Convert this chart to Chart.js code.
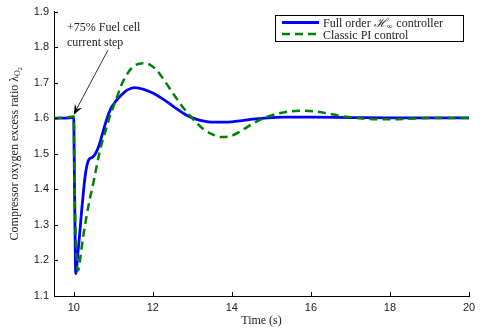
<!DOCTYPE html>
<html>
<head>
<meta charset="utf-8">
<script src="https://cdn.jsdelivr.net/npm/chart.js@4/dist/chart.umd.min.js"></script>
<style>
  html, body { margin: 0; padding: 0; background: #fff; }
  canvas { display: block; }
</style>
</head>
<body>
<canvas id="chart" width="483" height="330"></canvas>
<script>
// time (s) and oxygen excess ratio
var timeHinf = [9.5, 9.9, 10.0, 10.01, 10.03, 10.05, 10.1, 10.15, 10.2, 10.24, 10.28, 10.32, 10.36, 10.4, 10.45, 10.5, 10.56, 10.62, 10.68, 10.74, 10.8, 10.86, 10.93, 11.0, 11.1, 11.2, 11.35, 11.54, 11.8, 12.0, 12.2, 12.4, 12.6, 12.8, 13.0, 13.2, 13.4, 13.6, 13.8, 14.0, 14.3, 14.6, 14.9, 15.3, 16.0, 17.0, 18.0, 20.0];
var ratioHinf = [1.600, 1.601, 1.602, 1.50, 1.30, 1.163, 1.215, 1.275, 1.34, 1.387, 1.43, 1.46, 1.478, 1.486, 1.489, 1.493, 1.503, 1.518, 1.538, 1.562, 1.585, 1.606, 1.625, 1.638, 1.653, 1.665, 1.679, 1.686, 1.680, 1.671, 1.658, 1.643, 1.627, 1.612, 1.601, 1.594, 1.590, 1.589, 1.589, 1.590, 1.594, 1.598, 1.601, 1.603, 1.603, 1.602, 1.601, 1.601];

var timePI = [9.5, 9.8, 10.0, 10.01, 10.04, 10.08, 10.11, 10.15, 10.19, 10.25, 10.32, 10.4, 10.49, 10.57, 10.66, 10.75, 10.83, 10.91, 11.0, 11.08, 11.2, 11.35, 11.5, 11.75, 11.92, 12.1, 12.3, 12.5, 12.7, 12.9, 13.1, 13.3, 13.5, 13.74, 13.95, 14.2, 14.5, 14.8, 15.2, 15.7, 16.1, 16.5, 16.9, 17.3, 17.7, 18.1, 18.6, 19.2, 20.0];
var ratioPI = [1.600, 1.602, 1.605, 1.50, 1.30, 1.19, 1.172, 1.195, 1.229, 1.275, 1.322, 1.37, 1.415, 1.46, 1.508, 1.545, 1.574, 1.605, 1.632, 1.655, 1.692, 1.724, 1.745, 1.755, 1.751, 1.735, 1.705, 1.672, 1.640, 1.612, 1.588, 1.568, 1.555, 1.547, 1.549, 1.562, 1.583, 1.600, 1.614, 1.621, 1.619, 1.612, 1.604, 1.599, 1.597, 1.597, 1.599, 1.601, 1.601];

var xTicks = [10, 12, 14, 16, 18, 20];
var yTicks = [1.1, 1.2, 1.3, 1.4, 1.5, 1.6, 1.7, 1.8, 1.9];

var serif = "'Liberation Serif', 'DejaVu Serif', serif";
var sans = "'Liberation Sans', Arial, sans-serif";

function toPoints(xs, ys) {
    return xs.map(function (x, i) { return { x: x, y: ys[i] }; });
}

// inward ticks, y title, legend and the annotation arrow
var extras = {
    id: 'extras',
    afterDraw: function (chart) {
        var ctx = chart.ctx;
        var xs = chart.scales.x, ys = chart.scales.y;
        var area = chart.chartArea;
        ctx.save();

        // inward tick marks
        ctx.strokeStyle = '#000';
        ctx.lineWidth = 1;
        ctx.beginPath();
        xTicks.forEach(function (v) {
            var px = Math.round(xs.getPixelForValue(v)) + 0.5;
            ctx.moveTo(px, area.bottom);
            ctx.lineTo(px, area.bottom - 4);
        });
        yTicks.forEach(function (v) {
            var py = Math.round(ys.getPixelForValue(v)) + 0.5;
            ctx.moveTo(area.left, py);
            ctx.lineTo(area.left + 4, py);
        });
        ctx.stroke();

        // y axis title with subscript
        ctx.save();
        ctx.translate(15, (area.top + area.bottom) / 2);
        ctx.rotate(-Math.PI / 2);
        ctx.fillStyle = '#222';
        ctx.textBaseline = 'middle';
        ctx.textAlign = 'left';
        var mainTxt = 'Compressor oxygen excess ratio \u03BB';
        ctx.font = '12px ' + serif;
        var w1 = ctx.measureText(mainTxt).width;
        ctx.font = '8px ' + serif;
        var w2 = ctx.measureText('O').width;
        ctx.font = '6px ' + serif;
        var w3 = ctx.measureText('2').width;
        var sx = -(w1 + w2 + w3) / 2;
        ctx.font = '12px ' + serif;
        ctx.fillText(mainTxt, sx, 0);
        ctx.font = '8px ' + serif;
        ctx.fillText('O', sx + w1, 3);
        ctx.font = '6px ' + serif;
        ctx.fillText('2', sx + w1 + w2, 5);
        ctx.restore();

        // legend
        ctx.fillStyle = '#fff';
        ctx.fillRect(275.5, 15.5, 188, 26);
        ctx.strokeStyle = '#000';
        ctx.lineWidth = 1;
        ctx.strokeRect(275.5, 15.5, 188, 26);

        ctx.lineWidth = 2.8;
        ctx.strokeStyle = '#0000ff';
        ctx.beginPath();
        ctx.moveTo(282, 22.5);
        ctx.lineTo(319, 22.5);
        ctx.stroke();
        ctx.lineWidth = 2.5;
        ctx.strokeStyle = '#008000';
        ctx.setLineDash([8, 5]);
        ctx.beginPath();
        ctx.moveTo(282, 34);
        ctx.lineTo(319, 34);
        ctx.stroke();
        ctx.setLineDash([]);

        ctx.fillStyle = '#222';
        ctx.textBaseline = 'alphabetic';
        ctx.textAlign = 'left';
        ctx.font = '12px ' + serif;
        var lx = 323;
        var t1 = 'Full order ';
        ctx.fillText(t1, lx, 27);
        lx += ctx.measureText(t1).width;
        ctx.font = 'italic 12px ' + serif;
        ctx.fillText('\u210B', lx, 27);
        lx += ctx.measureText('\u210B').width;
        ctx.font = '8px ' + serif;
        ctx.fillText('\u221E', lx, 29);
        lx += ctx.measureText('\u221E').width;
        ctx.font = '12px ' + serif;
        ctx.fillText(' controller', lx + 1, 27);
        ctx.fillText('Classic PI control', 323, 38.5);

        // annotation
        ctx.font = '12px ' + serif;
        ctx.fillText('+75% Fuel cell', 67, 31);
        ctx.fillText('current step', 67, 46);

        var tipX = xs.getPixelForValue(10), tipY = ys.getPixelForValue(1.607) - 1;
        var fromX = 108, fromY = 50;
        ctx.strokeStyle = '#000';
        ctx.lineWidth = 0.8;
        ctx.beginPath();
        ctx.moveTo(fromX, fromY);
        ctx.lineTo(tipX + 3, tipY - 6);
        ctx.stroke();
        var ang = Math.atan2(tipY - fromY, tipX - fromX);
        var len = 11, spread = 0.38;
        ctx.fillStyle = '#000';
        ctx.beginPath();
        ctx.moveTo(tipX, tipY);
        ctx.lineTo(tipX - len * Math.cos(ang - spread), tipY - len * Math.sin(ang - spread));
        ctx.lineTo(tipX - 0.6 * len * Math.cos(ang), tipY - 0.6 * len * Math.sin(ang));
        ctx.lineTo(tipX - len * Math.cos(ang + spread), tipY - len * Math.sin(ang + spread));
        ctx.closePath();
        ctx.fill();

        ctx.restore();
    }
};

var chart = new Chart(document.getElementById('chart').getContext('2d'), {
    type: 'line',
    data: {
        datasets: [
            {
                label: 'Classic PI control',
                data: toPoints(timePI, ratioPI),
                borderColor: '#008000',
                borderWidth: 2.5,
                borderDash: [8, 5],
                pointRadius: 0,
                fill: false,
                cubicInterpolationMode: 'monotone'
            },
            {
                label: 'Full order H\u221E controller',
                data: toPoints(timeHinf, ratioHinf),
                borderColor: '#0000ff',
                borderWidth: 2.8,
                pointRadius: 0,
                fill: false,
                cubicInterpolationMode: 'monotone'
            }
        ]
    },
    options: {
        responsive: false,
        animation: false,
        devicePixelRatio: 1,
        layout: { padding: { top: 10, right: 14, left: 0, bottom: 0 } },
        plugins: {
            legend: { display: false },
            tooltip: { enabled: false }
        },
        scales: {
            x: {
                type: 'linear',
                min: 9.5,
                max: 20,
                afterBuildTicks: function (s) { s.ticks = xTicks.map(function (v) { return { value: v }; }); },
                afterFit: function (s) { s.height = 34; },
                grid: { display: false, drawTicks: false },
                border: { display: true, color: '#000', width: 1 },
                ticks: { color: '#222', font: { family: sans, size: 11 }, padding: 5, maxRotation: 0 },
                title: { display: true, text: 'Time (s)', color: '#222', font: { family: serif, size: 12 }, padding: { top: 0, bottom: 2 } }
            },
            y: {
                type: 'linear',
                min: 1.1,
                max: 1.9,
                afterBuildTicks: function (s) { s.ticks = yTicks.map(function (v) { return { value: v }; }); },
                afterFit: function (s) { s.width = 54; },
                grid: { display: false, drawTicks: false },
                border: { display: true, color: '#000', width: 1 },
                ticks: {
                    color: '#222',
                    font: { family: sans, size: 11 },
                    padding: 5,
                    callback: function (v) { return v.toFixed(1); }
                }
            }
        }
    },
    plugins: [extras]
});
</script>
</body>
</html>
